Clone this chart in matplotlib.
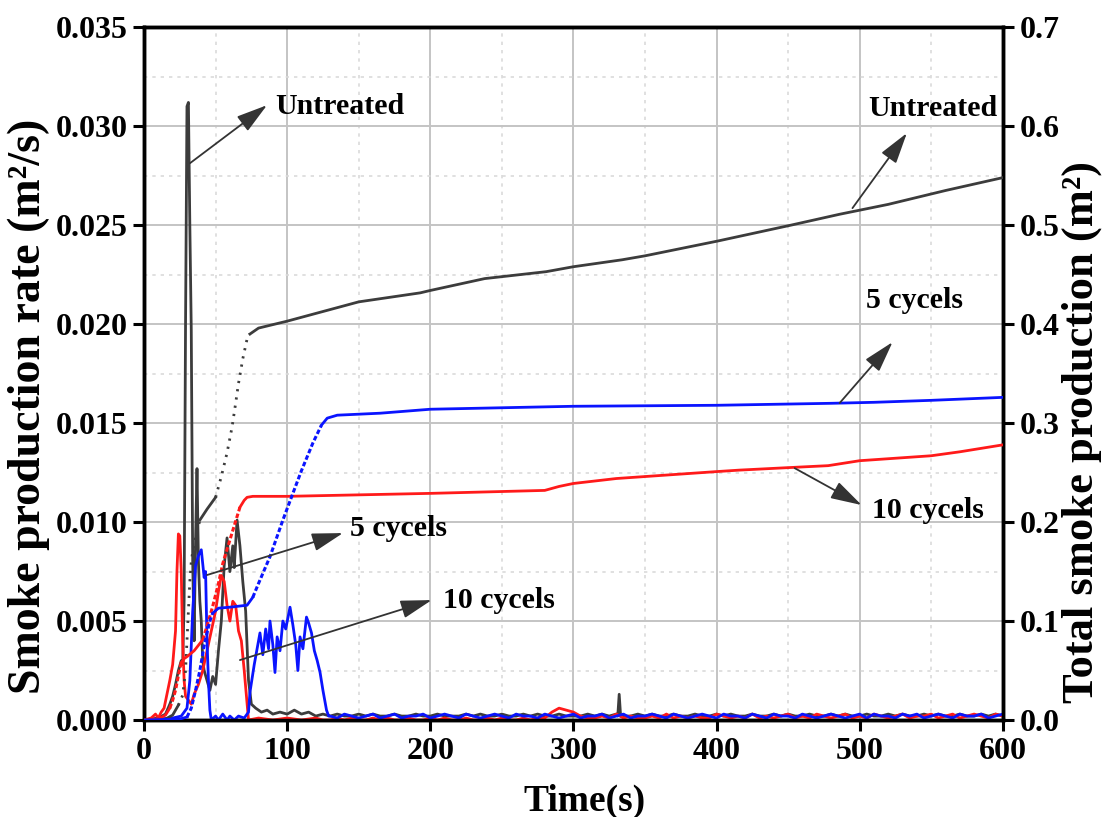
import numpy as np
import matplotlib
matplotlib.use("Agg")
import matplotlib.pyplot as plt
from matplotlib.ticker import MultipleLocator, FormatStrFormatter

plt.rcParams['font.family'] = ['Liberation Serif', 'DejaVu Serif']
plt.rcParams['font.weight'] = 'bold'

# ---------------- data: smoke production rate (m2/s) ----------------
unt_spr_t = [0, 10, 15, 18, 20, 22, 24, 26, 27, 28, 29, 30, 31, 32, 33, 34, 35, 36, 37, 38,
             39, 40, 41, 42, 44, 46, 48, 50, 52, 54, 56, 58, 60, 62, 63, 65, 67, 69, 71, 73,
             75, 78, 82, 86, 90, 95, 100, 105, 110, 115, 120, 125]
unt_spr_v = [0, 0.0001, 0.0003, 0.0008, 0.0012, 0.0018, 0.0025, 0.003, 0.0028, 0.006, 0.02, 0.031,
             0.0312, 0.025, 0.0197, 0.008, 0.004, 0.009, 0.0127, 0.008, 0.006, 0.005, 0.003,
             0.0025, 0.002, 0.0015, 0.0022, 0.0018, 0.0035, 0.005, 0.0078, 0.0092, 0.0075,
             0.0088, 0.0077, 0.0101, 0.0088, 0.007, 0.0055, 0.002, 0.0008, 0.0006, 0.0004,
             0.0005, 0.0003, 0.0004, 0.0003, 0.0005, 0.0003, 0.0004, 0.0002, 0.0003]
unt_spike_t = [331, 332, 333]
unt_spike_v = [0.0002, 0.0013, 0.0002]

red_spr_t = [0, 5, 8, 10, 12, 14, 16, 18, 20, 22, 23, 24, 25, 26, 27, 28, 29, 31, 33, 35, 38,
             41, 44, 47, 50, 52, 54, 56, 58, 60, 62, 64, 66, 68, 70, 72, 73, 80, 90, 100, 110,
             120, 125]
red_spr_v = [0, 0.0001, 0.0003, 0.0001, 0.0004, 0.0006, 0.0013, 0.002, 0.0028, 0.0045, 0.0075,
             0.0094, 0.0093, 0.0075, 0.004, 0.002, 0.0012, 0.001, 0.0008, 0.0013, 0.0018,
             0.0025, 0.0035, 0.0045, 0.0055, 0.0065, 0.0073, 0.007, 0.0058, 0.005, 0.006,
             0.0058, 0.0045, 0.004, 0.0025, 0.0008, 0.0, 0.0001, 0.0, 0.0001, 0.0, 0.0001, 0.0]

blue_spr_t = [0, 20, 26, 30, 32, 34, 36, 38, 40, 42, 43, 44, 45, 46, 47, 50, 52, 55, 58, 60,
              63, 66, 70, 73, 74, 77, 79, 81, 83, 85, 87, 88, 90, 91.5, 93, 95, 97, 99, 102,
              104, 106, 107.5, 109, 111, 113.5, 115, 117, 119, 121, 123, 125, 127.5, 129]
blue_spr_v = [0, 0.0001, 0.0002, 0.0006, 0.002, 0.0055, 0.0078, 0.0083, 0.0086, 0.0072, 0.0075,
              0.004, 0.002, 0.0005, 0.0, 0.0002, 0.0, 0.0003, 0.0, 0.0002, 0.0, 0.0002, 0.0001,
              0.0004, 0.0014, 0.0028, 0.0036, 0.0044, 0.0033, 0.0046, 0.0036, 0.005, 0.0038,
              0.0024, 0.0042, 0.0035, 0.005, 0.0046, 0.0057, 0.0048, 0.0038, 0.0025, 0.0042,
              0.0036, 0.0052, 0.0049, 0.0044, 0.0035, 0.003, 0.0024, 0.0015, 0.0005, 0.0002]

# low-level noise after 130 s, units of 1e-4 m2/s (times 130, 135, ..., 600)
tail_t = np.arange(130, 601, 5)
unt_tail = [2, 3, 2, 2, 3, 2, 3, 2, 2, 3, 2, 2, 3, 2, 2, 3, 2, 2, 2, 3, 2, 3, 2, 2, 3, 2, 2, 3,
            2, 3, 2, 2, 3, 2, 2, 2, 3, 2, 3, 2, 3, 2, 2, 3, 2, 3, 2, 2, 3, 2, 2, 3, 2, 2, 3, 2,
            3, 2, 2, 3, 2, 2, 3, 2, 3, 2, 2, 3, 2, 2, 3, 2, 3, 2, 2, 3, 2, 2, 3, 2, 3, 2, 2, 3,
            2, 3, 2, 2, 3, 2, 2, 3, 2, 3, 2]
blue_tail = [2, 1, 3, 2, 1, 2, 3, 1, 2, 3, 1, 2, 2, 3, 1, 2, 3, 2, 1, 3, 2, 1, 2, 3, 2, 1, 3, 2,
             2, 1, 3, 2, 1, 2, 3, 1, 2, 2, 3, 1, 2, 3, 1, 2, 2, 3, 2, 1, 3, 2, 1, 2, 3, 2, 1, 3,
             2, 2, 1, 3, 2, 1, 3, 2, 2, 1, 3, 2, 1, 2, 3, 2, 1, 2, 3, 1, 3, 2, 2, 1, 3, 2, 3, 1,
             2, 3, 2, 1, 3, 2, 2, 3, 1, 2, 3]
red_tail = [0, 1, 0, 1, 0, 0, 1, 0, 1, 0, 0, 1, 0, 0, 1, 0, 1, 0, 0, 1, 0, 0, 1, 0, 1, 0, 0, 1,
            0, 1, 1, 4, 6, 5, 4, 2, 1, 1, 2, 1, 3, 1, 2, 1, 1, 2, 1, 3, 1, 2, 1, 2, 1, 1, 3, 2,
            1, 2, 1, 3, 1, 2, 1, 2, 3, 1, 2, 1, 3, 2, 1, 2, 3, 1, 2, 1, 3, 2, 1, 2, 3, 1, 2, 2,
            3, 1, 2, 3, 1, 2, 3, 2, 1, 3, 2]

# ---------------- data: total smoke production (m2) ----------------
unt_tsp_t = [0, 15, 20, 24, 27, 29, 30, 31, 32, 33, 34, 35, 37, 39, 44, 50, 54, 58, 61.5, 64,
             66, 69, 72, 74, 80, 100, 150, 193, 200, 238, 281, 300, 334, 350, 401, 452, 486,
             520, 560, 600]
unt_tsp_v = [0, 0.001, 0.005, 0.015, 0.025, 0.05, 0.08, 0.11, 0.14, 0.16, 0.17, 0.178, 0.19,
             0.202, 0.213, 0.225, 0.246, 0.27, 0.296, 0.32, 0.34, 0.365, 0.385, 0.39, 0.396,
             0.403, 0.4225, 0.4316, 0.434, 0.446, 0.453, 0.458, 0.465, 0.469, 0.484, 0.5,
             0.511, 0.521, 0.535, 0.548]

red_tsp_t = [0, 10, 15, 18, 20, 22, 24, 26, 28, 30, 35, 41, 44, 48, 52, 55, 60, 63.6, 67, 70,
             72, 76, 100, 200, 280, 290, 300, 330, 400, 416, 450, 478, 500, 550, 570, 600]
red_tsp_v = [0, 0.001, 0.005, 0.012, 0.02, 0.03, 0.045, 0.058, 0.062, 0.064, 0.07, 0.081,
             0.095, 0.115, 0.138, 0.158, 0.182, 0.199, 0.215, 0.222, 0.225, 0.226, 0.226,
             0.229, 0.232, 0.236, 0.239, 0.244, 0.251, 0.2525, 0.255, 0.257, 0.262, 0.267,
             0.271, 0.278]

blue_tsp_t = [0, 25, 30, 33, 36, 39, 42, 44, 46, 48, 52, 60, 72, 76, 80, 88, 97, 104, 110, 118,
              124, 128, 135, 165, 200, 300, 400, 480, 510, 550, 600]
blue_tsp_v = [0, 0.001, 0.003, 0.012, 0.03, 0.05, 0.075, 0.088, 0.1, 0.108, 0.113, 0.114,
              0.116, 0.124, 0.138, 0.165, 0.202, 0.229, 0.252, 0.28, 0.298, 0.305, 0.308, 0.31,
              0.314, 0.317, 0.318, 0.320, 0.321, 0.323, 0.326]

BLACK = '#3c3c3c'
RED = '#ff1a1a'
BLUE = '#0a14ff'


def with_tail(t, v, tail):
    return (np.concatenate([np.asarray(t, float), tail_t]),
            np.concatenate([np.asarray(v, float), np.asarray(tail, float) * 1e-4]))


fig = plt.figure(figsize=(11.08, 8.17), dpi=100)
ax = fig.add_axes([0.130, 0.1187, 0.775, 0.848])
ax2 = ax.twinx()

# grid
ax.set_xlim(0, 600)
ax.set_ylim(0, 0.035)
ax.xaxis.set_major_locator(MultipleLocator(100))
ax.xaxis.set_minor_locator(MultipleLocator(50))
ax.yaxis.set_major_locator(MultipleLocator(0.005))
ax.yaxis.set_minor_locator(MultipleLocator(0.0025))
ax.grid(which='major', color='#c4c4c4', lw=1.4, ls='-')
ax.grid(which='minor', color='#dadada', lw=1.2, ls=(0, (2, 3)))
ax.set_axisbelow(True)

# SPR lines
ut, uv = with_tail(unt_spr_t, unt_spr_v, unt_tail)
ut = np.concatenate([ut, unt_spike_t]); uv = np.concatenate([uv, unt_spike_v])
o = np.argsort(ut, kind='stable')
ax.plot(ut[o], uv[o], color=BLACK, lw=2.0, zorder=3)
rt, rv = with_tail(red_spr_t, red_spr_v, red_tail)
ax.plot(rt, rv, color=RED, lw=2.0, zorder=3)
bt, bv = with_tail(blue_spr_t, blue_spr_v, blue_tail)
ax.plot(bt, bv, color=BLUE, lw=2.0, zorder=3)


# TSP lines: steep segments rendered dotted (sparse samples in original)
def plot_tsp(t, v, color, dots):
    t = np.asarray(t, float); v = np.asarray(v, float)
    slope = np.diff(v) / np.diff(t)
    steep = slope > 0.0025
    i = 0
    n = len(t) - 1
    while i < n:
        j = i
        while j < n and steep[j] == steep[i]:
            j += 1
        seg = slice(i, j + 1)
        if steep[i]:
            ax2.plot(t[seg], v[seg], color=color, lw=dots[0], ls=dots[1], zorder=4)
        else:
            ax2.plot(t[seg], v[seg], color=color, lw=2.0, ls='-', zorder=4)
        i = j


plot_tsp(unt_tsp_t, unt_tsp_v, BLACK, (2.0, (0, (0.8, 2.2))))
plot_tsp(red_tsp_t, red_tsp_v, RED, (2.2, (0, (1.5, 0.8))))
plot_tsp(blue_tsp_t, blue_tsp_v, BLUE, (2.2, (0, (1.5, 0.8))))
ax2.set_ylim(0, 0.7)
ax2.yaxis.set_major_locator(MultipleLocator(0.1))
ax2.yaxis.set_major_formatter(FormatStrFormatter('%.1f'))
ax.yaxis.set_major_formatter(FormatStrFormatter('%.3f'))

# spines & ticks
for a in (ax, ax2):
    for s in a.spines.values():
        s.set_linewidth(2.5)
        s.set_color('black')
ax.tick_params(which='major', direction='out', length=8, width=2.2, labelsize=23, pad=4)
ax.tick_params(which='minor', length=0)
ax2.tick_params(which='major', direction='out', length=8, width=2.2, labelsize=23, pad=4)
ax2.tick_params(which='minor', length=0)
for lab in ax.get_xticklabels() + ax.get_yticklabels() + ax2.get_yticklabels():
    lab.set_fontweight('bold')

ax.set_xlabel('Time(s)', fontsize=27, fontweight='bold')
ax.set_ylabel('Smoke production rate (m²/s)', fontsize=33, fontweight='bold')
ax2.set_ylabel('Total smoke production (m²)', fontsize=32, fontweight='bold')
ax.xaxis.set_label_coords(0.513, -0.092)
ax.yaxis.set_label_coords(-0.109, 0.452)
ax2.yaxis.set_label_coords(1.069, 0.416)

# annotations (right-axis coordinates)
arrow_kw = dict(arrowstyle='-|>,head_length=1.2,head_width=0.35', color='#333333', lw=1.3,
                mutation_scale=16, shrinkA=0, shrinkB=0)
notes = [
    ('Untreated', (32.1, 0.5626), (85.9, 0.6212), (91.5, 0.620), 'left'),
    ('5 cycels', (44, 0.1465), (139, 0.1889), (143.9, 0.194), 'left'),
    ('10 cycels', (67, 0.0606), (201, 0.1212), (208.8, 0.1212), 'left'),
    ('Untreated', (495, 0.5172), (533, 0.593), (551, 0.6182), 'center'),
    ('5 cycels', (486, 0.3202), (523, 0.3818), (538, 0.4242), 'center'),
    ('10 cycels', (454.6, 0.2545), (501.4, 0.2172), (508.4, 0.2121), 'left'),
]
for txt, p0, p1, pt, ha in notes:
    ax2.annotate('', xy=p1, xytext=p0, arrowprops=arrow_kw, zorder=6)
    ax2.text(pt[0], pt[1], txt, fontsize=21.5, fontweight='bold', ha=ha, va='center', zorder=6)

fig.savefig('out.png', dpi=100)
